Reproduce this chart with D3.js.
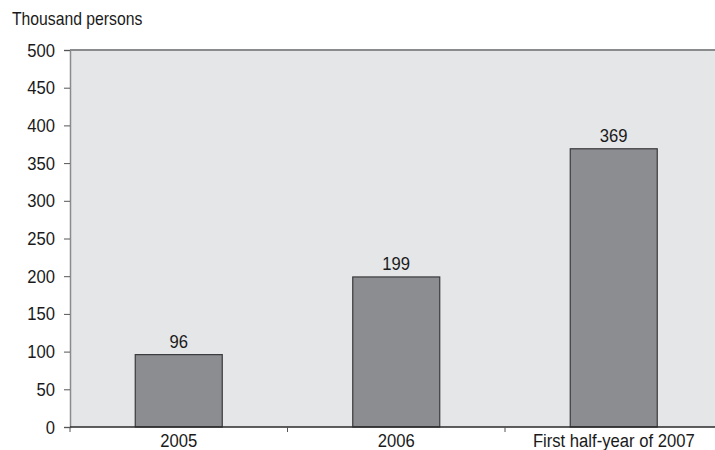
<!DOCTYPE html>
<html>
<head>
<meta charset="utf-8">
<script src="https://cdn.jsdelivr.net/npm/d3@7"></script>
<style>
  html, body { margin: 0; padding: 0; background: #fff; }
  svg text { font-family: "Liberation Sans", Arial, sans-serif; fill: #1a1a1a; }
</style>
</head>
<body>
<svg id="chart" width="715" height="450"></svg>
<script>
// Persons, in thousands, per period
const categories = ["2005", "2006", "First half-year of 2007"];
const values = [96, 199, 369];
const yTicks = [0, 50, 100, 150, 200, 250, 300, 350, 400, 450, 500];
const unitLabel = "Thousand persons";

const svg = d3.select("#chart");
const margin = { left: 70, top: 50, bottom: 427 };
const bandWidth = 217.5;
const plotRight = margin.left + bandWidth * categories.length;
const narrow = 0.9; // horizontal squeeze for a condensed look
const fontSize = 18.5;

// draws a condensed text at (px, py)
function condensedText(sel, px, py) {
  return sel.attr("transform", (d, i) => {
    const xx = typeof px === "function" ? px(d, i) : px;
    const yy = typeof py === "function" ? py(d, i) : py;
    return `translate(${xx},${yy}) scale(${narrow},1)`;
  });
}

const x = d3.scaleBand()
  .domain(categories)
  .range([margin.left, plotRight])
  .paddingInner(0.6)
  .paddingOuter(0.3);

const y = d3.scaleLinear().domain([0, 500]).range([margin.bottom, margin.top]);

// plot background
svg.append("rect")
  .attr("x", margin.left).attr("y", margin.top)
  .attr("width", plotRight - margin.left).attr("height", margin.bottom - margin.top)
  .attr("fill", "#e5e6e8");

// top frame line
svg.append("line")
  .attr("x1", margin.left).attr("x2", plotRight)
  .attr("y1", margin.top).attr("y2", margin.top)
  .attr("stroke", "#8a8b8d").attr("stroke-width", 2);

// bars
svg.append("g").selectAll("rect")
  .data(values)
  .join("rect")
  .attr("x", (d, i) => x(categories[i]))
  .attr("y", d => y(d))
  .attr("width", x.bandwidth())
  .attr("height", d => y(0) - y(d))
  .attr("fill", "#8c8d91")
  .attr("stroke", "#3a3a3c")
  .attr("stroke-width", 1.2);

// value labels
svg.append("g").selectAll("text")
  .data(values)
  .join("text")
  .call(condensedText, (d, i) => x(categories[i]) + x.bandwidth() / 2, d => y(d) - 7)
  .attr("text-anchor", "middle")
  .attr("font-size", fontSize)
  .text(d => d);

// y axis
const yAxis = svg.append("g")
  .attr("transform", `translate(${margin.left},0)`)
  .call(d3.axisLeft(y).tickValues(yTicks).tickSize(6).tickFormat(""));
yAxis.select(".domain").attr("stroke", "#8a8b8d").attr("stroke-width", 1.5);
yAxis.selectAll(".tick line").attr("stroke", "#555");
svg.append("g").selectAll("text")
  .data(yTicks)
  .join("text")
  .call(condensedText, 55, d => y(d) + 6.5)
  .attr("text-anchor", "end")
  .attr("font-size", fontSize)
  .text(d => d);

// x axis with ticks at band boundaries
const xAxisG = svg.append("g").attr("transform", `translate(0,${margin.bottom})`);
xAxisG.append("line")
  .attr("x1", margin.left).attr("x2", plotRight)
  .attr("y1", 0).attr("y2", 0)
  .attr("stroke", "#2a2a2a").attr("stroke-width", 1.5);
const boundaries = d3.range(categories.length + 1).map(i => margin.left + i * bandWidth);
xAxisG.selectAll("line.tk")
  .data(boundaries)
  .join("line")
  .attr("class", "tk")
  .attr("x1", d => d).attr("x2", d => d)
  .attr("y1", 0).attr("y2", 5)
  .attr("stroke", "#555");
xAxisG.selectAll("text")
  .data(categories)
  .join("text")
  .call(condensedText, d => x(d) + x.bandwidth() / 2, 19.5)
  .attr("text-anchor", "middle")
  .attr("font-size", fontSize)
  .text(d => d);

// unit label
svg.append("text")
  .call(condensedText, 12, 25)
  .attr("font-size", 17.5)
  .text(unitLabel);
</script>
</body>
</html>
